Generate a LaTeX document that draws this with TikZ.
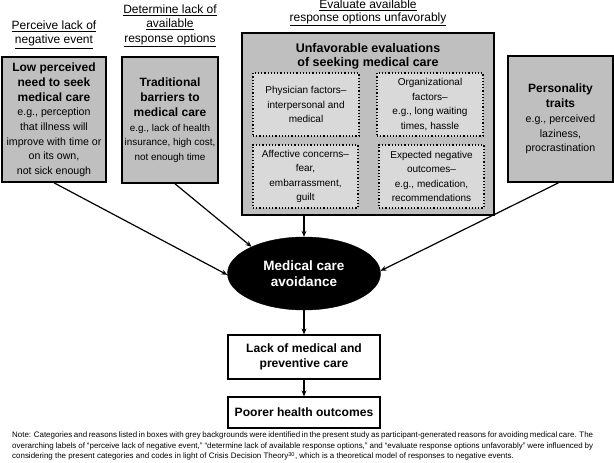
\documentclass[tikz,border=0pt]{standalone}
\usepackage{fontspec}
\setmainfont{Liberation Sans}
\usetikzlibrary{arrows.meta,shapes.geometric}
\definecolor{boxgray}{RGB}{191,191,191}
\definecolor{innergray}{RGB}{217,217,217}
\newcommand{\myul}[1]{\underline{#1}}
\newcommand{\myboxtitle}{\fontsize{12}{15}\selectfont\bfseries}
\newcommand{\mybox}[4]{\begin{minipage}{#1pt}\centering\myboxtitle #2\par\fontsize{#4}{14.6}\selectfont\mdseries #3\par\end{minipage}}
\tikzset{
  outerbox/.style={draw=black,line width=1.6pt,fill=boxgray,inner sep=0pt},
  innerbox/.style={draw=black,line width=1.2pt,dotted,fill=innergray,inner sep=0pt,align=center,
     font=\fontsize{10}{14.6}\selectfont},
  whitebox/.style={draw=black,line width=1.2pt,fill=white,inner sep=0pt,align=center,
     font=\fontsize{12.1}{14.5}\selectfont\bfseries},
  toplabel/.style={align=center,inner sep=0pt,anchor=north,font=\fontsize{12}{14.5}\selectfont},
  arr/.style={line width=1.2pt,-{Stealth[length=6pt,width=5pt]}},
}
\begin{document}
\begin{tikzpicture}[x=1pt,y=-1pt]
\useasboundingbox (0,0) rectangle (614,463);
% top labels
\node[toplabel] (l1) at (54,20.6) {\myul{Perceive lack of}\\\myul{negative event}};
\node[toplabel] (l2) at (170,4.6) {\myul{Determine lack of}\\\myul{available}\\\myul{response options}};
\node[toplabel,font=\fontsize{12}{12.8}\selectfont] (l3) at (368,0) {\myul{Evaluate available}\\\myul{response options unfavorably}};
% outer boxes
\node[outerbox,minimum width=104,minimum height=125] (b1) at (54,119.5)
  {\mybox{104}{Low perceived\\need to seek\\medical care}{e.g., perception\\that illness will\\improve with time or\\on its own,\\not sick enough}{10.6}};
\node[outerbox,minimum width=96,minimum height=126] (b2) at (170,120)
  {\mybox{96}{Traditional\\barriers to\\medical care}{e.g., lack of health\\insurance, high cost,\\not enough time}{9.9}};
\node[outerbox,minimum width=252,minimum height=182] (b3) at (368,124) {};
\node[inner sep=0pt,align=center,anchor=north,font=\fontsize{12.5}{14}\selectfont\bfseries] (b3t) at (368,43) {Unfavorable evaluations\\of seeking medical care};
\node[innerbox,minimum width=106,minimum height=63] (i1) at (306,104.5) {Physician factors–\\interpersonal and\\medical};
\node[innerbox,minimum width=106,minimum height=63] (i2) at (430,104.5) {Organizational\\factors–\\e.g., long waiting\\times, hassle};
\node[innerbox,minimum width=105,minimum height=63] (i3) at (305.5,176.5) {Affective concerns–\\fear,\\embarrassment,\\guilt};
\node[innerbox,minimum width=105,minimum height=63] (i4) at (431.5,176.5) {Expected negative\\outcomes–\\e.g., medication,\\recommendations};
\node[outerbox,minimum width=105,minimum height=126] (b4) at (560.5,119)
  {\mybox{105}{Personality\\traits}{e.g., perceived\\laziness,\\procrastination}{10.6}};
% ellipse
\node[ellipse,fill=black,draw=black,inner sep=0pt,minimum width=153,minimum height=73,text=white,align=center,font=\fontsize{13.5}{16.5}\selectfont\bfseries] (av) at (304,273.5) {Medical care\\avoidance};
% bottom boxes
\node[whitebox,minimum width=152,minimum height=44] (lc) at (304,357) {Lack of medical and\\preventive care};
\node[whitebox,minimum width=152,minimum height=31] (po) at (304,412.5) {Poorer health outcomes};
% arrows
\draw[arr] (b1.south) -- (av.181);
\draw[arr] ([xshift=5pt]b2.south) -- (av.153);
\draw[arr] (b3.south -| av.north) -- (av.north);
\draw[arr] ([xshift=-2pt]b4.south) -- (av.2);
\draw[arr] (av.south) -- (lc.north);
\draw[arr] (lc.south) -- (po.north);
% note
\node[inner sep=0pt,text width=581,align=justify,anchor=north west,font=\fontsize{7.95}{10.5}\selectfont] (note) at (12,432) {Note: Categories and reasons listed in boxes with grey backgrounds were identified in the present study as participant-generated reasons for avoiding medical care. The\linebreak overarching labels of “perceive lack of negative event,” “determine lack of available response options,” and “evaluate response options unfavorably” were influenced by\linebreak considering the present categories and codes in light of Crisis Decision Theory\textsuperscript{30}, which is a theoretical model of responses to negative events.};
\end{tikzpicture}
\end{document}
